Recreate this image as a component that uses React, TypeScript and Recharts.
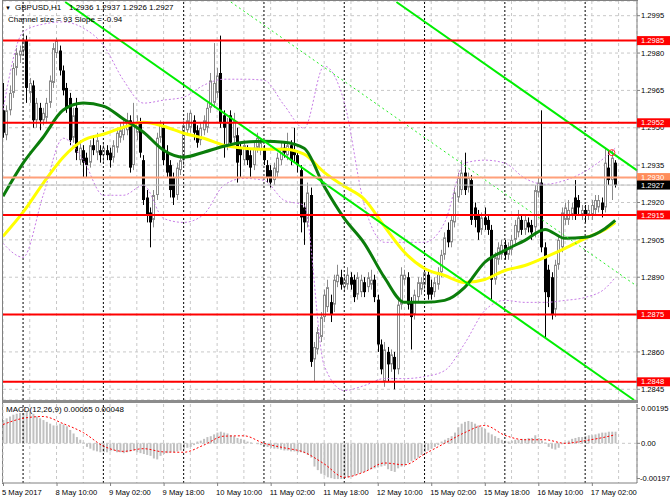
import React from 'react';
import { ComposedChart, Bar, Line, XAxis, YAxis, CartesianGrid, ReferenceLine, ReferenceDot } from 'recharts';

// GBPUSD H1 candles, prices in 1/10000 (12957 = 1.2957): [open, high, low, close]
const candles: number[][] = [
  [12957, 12968, 12946, 12948], [12947, 12959, 12945, 12957], [12957, 12967, 12955, 12964], [12964, 12976, 12962, 12974],
  [12974, 12982, 12971, 12980], [12979, 12983, 12976, 12981], [12981, 12988, 12979, 12985], [12985, 12987, 12960, 12966],
  [12964, 12970, 12960, 12968], [12967, 12969, 12950, 12953], [12953, 12962, 12950, 12960], [12958, 12960, 12949, 12953],
  [12953, 12958, 12951, 12956], [12954, 12962, 12952, 12960], [12960, 12971, 12958, 12969], [12968, 12984, 12966, 12982],
  [12980, 12986, 12978, 12985], [12981, 12983, 12971, 12973], [12973, 12975, 12963, 12965], [12966, 12968, 12956, 12958],
  [12962, 12964, 12943, 12945], [12946, 12958, 12944, 12955], [12958, 12962, 12937, 12940], [12937, 12945, 12935, 12942],
  [12941, 12943, 12930, 12936], [12938, 12940, 12930, 12935], [12936, 12945, 12934, 12943], [12943, 12947, 12939, 12941],
  [12940, 12948, 12937, 12945], [12941, 12943, 12936, 12939], [12939, 12944, 12936, 12942], [12941, 12943, 12937, 12939],
  [12940, 12942, 12934, 12937], [12938, 12945, 12936, 12943], [12942, 12950, 12940, 12948], [12946, 12952, 12944, 12949],
  [12947, 12953, 12945, 12950], [12949, 12956, 12947, 12953], [12953, 12955, 12932, 12934], [12935, 12960, 12933, 12952],
  [12948, 12955, 12945, 12952], [12952, 12954, 12938, 12940], [12937, 12939, 12919, 12921], [12922, 12925, 12912, 12915],
  [12916, 12918, 12902, 12912], [12913, 12925, 12910, 12923], [12923, 12948, 12921, 12946], [12946, 12953, 12944, 12951],
  [12950, 12952, 12935, 12937], [12940, 12943, 12930, 12932], [12935, 12937, 12922, 12925], [12930, 12932, 12919, 12922],
  [12923, 12936, 12921, 12934], [12933, 12939, 12931, 12937], [12937, 12953, 12935, 12951], [12949, 12956, 12947, 12953],
  [12950, 12957, 12948, 12956], [12953, 12955, 12945, 12948], [12949, 12951, 12942, 12944], [12945, 12952, 12943, 12950],
  [12949, 12955, 12947, 12953], [12950, 12960, 12948, 12958], [12958, 12972, 12956, 12969], [12960, 12984, 12958, 12968],
  [12964, 12974, 12962, 12971], [12972, 12987, 12950, 12952], [12955, 12957, 12938, 12950], [12943, 12954, 12941, 12952],
  [12955, 12957, 12942, 12944], [12946, 12956, 12944, 12953], [12947, 12950, 12928, 12936], [12942, 12944, 12930, 12939],
  [12937, 12945, 12935, 12943], [12941, 12943, 12935, 12937], [12939, 12941, 12930, 12934], [12935, 12944, 12933, 12942],
  [12942, 12948, 12940, 12946], [12941, 12946, 12939, 12944], [12941, 12943, 12935, 12937], [12935, 12937, 12928, 12930],
  [12933, 12935, 12926, 12928], [12929, 12936, 12927, 12934], [12932, 12940, 12930, 12938], [12937, 12944, 12935, 12942],
  [12942, 12944, 12938, 12940], [12939, 12948, 12937, 12943], [12943, 12945, 12935, 12937], [12941, 12950, 12936, 12939],
  [12939, 12941, 12932, 12935], [12933, 12935, 12908, 12914], [12918, 12920, 12903, 12912], [12912, 12928, 12910, 12924],
  [12923, 12926, 12854, 12856], [12857, 12864, 12848, 12862], [12861, 12870, 12859, 12868], [12866, 12876, 12864, 12874],
  [12874, 12885, 12872, 12883], [12878, 12889, 12876, 12886], [12880, 12883, 12872, 12875], [12879, 12891, 12876, 12889],
  [12888, 12895, 12886, 12891], [12890, 12893, 12885, 12887], [12886, 12891, 12884, 12889], [12887, 12894, 12885, 12891],
  [12890, 12892, 12885, 12887], [12889, 12891, 12880, 12882], [12883, 12892, 12881, 12890], [12884, 12891, 12882, 12889],
  [12888, 12890, 12882, 12884], [12886, 12892, 12884, 12890], [12887, 12893, 12885, 12889], [12889, 12891, 12880, 12882],
  [12881, 12883, 12860, 12863], [12863, 12865, 12851, 12853], [12848, 12864, 12846, 12861], [12860, 12862, 12848, 12855],
  [12855, 12861, 12852, 12859], [12858, 12860, 12845, 12853], [12853, 12881, 12851, 12879], [12879, 12894, 12877, 12891],
  [12889, 12893, 12887, 12891], [12890, 12892, 12877, 12879], [12880, 12882, 12861, 12874], [12875, 12885, 12873, 12883],
  [12882, 12890, 12880, 12888], [12885, 12890, 12883, 12888], [12887, 12894, 12885, 12892], [12891, 12893, 12881, 12883],
  [12886, 12889, 12881, 12883], [12884, 12890, 12882, 12888], [12887, 12894, 12885, 12892], [12892, 12901, 12890, 12899],
  [12899, 12908, 12897, 12906], [12909, 12912, 12902, 12904], [12904, 12915, 12902, 12913], [12912, 12926, 12910, 12924],
  [12922, 12932, 12920, 12930], [12925, 12937, 12923, 12932], [12932, 12940, 12923, 12925], [12926, 12932, 12924, 12930],
  [12929, 12931, 12911, 12913], [12918, 12920, 12910, 12913], [12915, 12917, 12905, 12908], [12909, 12916, 12907, 12914],
  [12914, 12918, 12909, 12911], [12913, 12915, 12907, 12909], [12909, 12911, 12881, 12889], [12889, 12900, 12887, 12898],
  [12897, 12904, 12895, 12902], [12899, 12905, 12897, 12903], [12903, 12905, 12897, 12899], [12899, 12904, 12897, 12902],
  [12901, 12907, 12899, 12905], [12905, 12913, 12903, 12911], [12908, 12917, 12906, 12914], [12913, 12915, 12907, 12909],
  [12909, 12915, 12907, 12913], [12912, 12914, 12908, 12910], [12911, 12913, 12905, 12908], [12910, 12927, 12906, 12925],
  [12924, 12930, 12922, 12928], [12928, 12957, 12900, 12902], [12902, 12904, 12866, 12884], [12893, 12895, 12878, 12882],
  [12890, 12892, 12873, 12875], [12877, 12897, 12874, 12895], [12895, 12907, 12893, 12905], [12902, 12918, 12900, 12916],
  [12913, 12920, 12911, 12918], [12913, 12921, 12911, 12917], [12915, 12920, 12913, 12918], [12922, 12929, 12913, 12915],
  [12921, 12923, 12915, 12918], [12915, 12919, 12913, 12917], [12917, 12919, 12912, 12915], [12915, 12919, 12913, 12917],
  [12915, 12921, 12913, 12919], [12917, 12923, 12915, 12921], [12918, 12923, 12916, 12921], [12920, 12922, 12914, 12917],
  [12918, 12942, 12916, 12936], [12934, 12941, 12927, 12929], [12929, 12941, 12921, 12938], [12936, 12937, 12926, 12927],
];

// MACD(12,26,9) histogram per bar, in pips (6.5 = 0.00065)
const macdHist = [
  13, 14, 15, 16, 16.5, 17, 17, 17.5, 17, 16.5,
  15, 14, 13, 12, 11, 10, 10, 11, 10.5, 9.5,
  7.5, 5.5, 3.5, 2, 0.5, -2, -3, -4, -4.5, -5,
  -5, -5, -4.5, -4, -5, -5, -5.5, -5, -4.5, -4,
  -5, -5.5, -6, -6.5, -7, -8.5, -9, -7, -6, -5.5,
  -5, -5, -4.5, -4, -3, -2.5, -2, -1, 1, 1.5,
  2.5, 3.5, 4, 5, 6, 6.5, 6, 5.5, 4.5, 4,
  3, 2.5, 2, 1, 0.5, 0, -0.5, -1, -1.5, -2,
  -2.5, -3, -3, -3.5, -4, -4, -4.5, -4.5, -5, -5,
  -5.5, -6.5, -8, -13, -15, -17, -18, -19, -19.5, -20,
  -20, -20, -19.5, -19, -18.5, -18, -17, -16.5, -16, -15,
  -14.5, -14, -13.5, -13, -12.5, -14.5, -15.5, -16, -14, -13,
  -12, -11, -10, -9, -8, -6.5, -5, -4, -3, -2,
  -1, 1, 2, 3, 4, 6, 9, 11, 12, 12.5,
  12, 11, 10, 9, 8, 6, 5, 4, 3, 2,
  1.5, 1, 1.5, 2, 2, 2.5, 2.5, 3, 3, 4.5,
  3, 1.5, 0.5, -2, -3, -3.5, -2.5, -0.5, 0.5, 1.5,
  2.5, 3, 3.5, 3.5, 4, 4.5, 4.5, 5, 5.5, 6,
  6, 6.5, 6.5, 6.5,
];

// indicator lines read at these bars
const sampleBars = [0, 6, 12, 18, 24, 30, 36, 42, 48, 54, 60, 66, 72, 78, 84, 90, 96, 102, 108, 114, 120, 126, 132, 138, 144, 150, 156, 162, 168, 174, 180, 183];
const yellowMa = [12906.4, 12916.1, 12927.7, 12938.2, 12945.0, 12947.4, 12950.2, 12952.2, 12950.6, 12947.8, 12945.8, 12943.0, 12941.8, 12941.4, 12941.4, 12939.4, 12932.1, 12926.5, 12921.3, 12910.4, 12900.0, 12893.5, 12890.7, 12887.9, 12889.1, 12892.7, 12894.7, 12898.0, 12901.6, 12905.6, 12909.2, 12912.0];
const greenMa = [12922.5, 12935.8, 12946.2, 12957.1, 12959.9, 12958.7, 12953.5, 12948.2, 12941.0, 12938.2, 12940.2, 12942.6, 12944.2, 12944.6, 12944.2, 12941.8, 12926.5, 12913.6, 12903.6, 12889.9, 12879.9, 12879.9, 12880.7, 12885.9, 12896.0, 12900.8, 12904.8, 12909.2, 12905.6, 12906.0, 12909.6, 12912.8];
const bandUpper = [12957.1, 12988.4, 12991.6, 12992.5, 12990.0, 12983.2, 12969.1, 12959.9, 12961.1, 12962.3, 12967.1, 12969.5, 12969.5, 12969.1, 12959.1, 12949.8, 12974.8, 12960.3, 12918.9, 12904.0, 12904.0, 12904.0, 12912.0, 12935.8, 12937.0, 12935.8, 12929.7, 12927.3, 12928.9, 12932.5, 12938.2, 12941.8];
const bandLower = [12903.6, 12898.0, 12922.9, 12945.8, 12937.0, 12922.9, 12922.9, 12926.9, 12913.6, 12912.0, 12915.2, 12926.9, 12929.7, 12928.9, 12920.9, 12918.9, 12854.5, 12844.5, 12846.5, 12849.3, 12849.3, 12850.1, 12852.5, 12863.4, 12876.6, 12880.7, 12879.9, 12879.9, 12880.7, 12881.9, 12885.5, 12889.9];
const signalLine = [10.5, 14, 15, 11, 6, -1.5, -4.5, -3, -4.8, -5, -1, 4, 4.2, 0, -2.5, -5, -11.5, -19, -16, -11, -12, -6, 0, 6, 10, 4.5, 2, 2, 0, 1.5, 3.5, 4.8];

// regression channel (bar, price) end points
const channelUpper = [[117.6, 13000.5], [189.5, 12932.9]];
const channelMid = [[68.1, 13000.5], [189.5, 12886.4]];
const channelLower = [[18.6, 13000.5], [188.6, 12840.7]];

const supportLevels = [12985, 12952, 12915, 12875, 12848];
const markedPrice = 12930;
const bidPrice = 12927;
const signalDot = [182, 12940];

const priceTicks = [12845, 12860, 12875, 12890, 12905, 12920, 12935, 12950, 12965, 12980, 12995];
const macdTicks = [19.5, 0, -19.7];
const gridBars = [8, 16, 24, 32, 40, 48, 56, 64, 72, 80, 88, 96, 104, 112, 120, 128, 136, 144, 152, 160, 168, 176, 184];
const axisBars = [0, ...gridBars];
const daySeparators = [6, 30, 54, 78, 102, 126, 150, 174];
const timeLabelBars = [0, 16, 32, 48, 64, 80, 96, 112, 128, 144, 160, 176];
const timeLabels = ['5 May 2017', '8 May 10:00', '9 May 02:00', '9 May 18:00', '10 May 10:00', '11 May 02:00', '11 May 18:00', '12 May 10:00', '15 May 02:00', '15 May 18:00', '16 May 10:00', '17 May 02:00'];

const rows = candles.map(([o, h, l, c], i) => {
  const k = sampleBars.indexOf(i);
  const row: any = { i, o, h, l, c, macd: macdHist[i] };
  if (k >= 0) {
    row.ma1 = yellowMa[k];
    row.ma2 = greenMa[k];
    row.up = bandUpper[k];
    row.lo = bandLower[k];
    row.sig = signalLine[k];
  }
  return row;
});

// price-axis tags are drawn after the plain labels so they sit on top
const tagColors: Record<number, string> = { [markedPrice]: '#ff8c5a', [bidPrice]: '#000' };
supportLevels.forEach((p) => (tagColors[p] = '#ff0000'));
const priceAxisTicks = [...priceTicks, ...supportLevels, markedPrice, bidPrice];

const FONT = '"Liberation Sans", Arial, sans-serif';
const AXIS_FS = 7.6;
const fmtPrice = (v: number) => (v / 10000).toFixed(4);
const fmtMacd = (v: number) => (v === 0 ? '0.00' : (v / 10000).toFixed(5));

const Candle = (props: any) => {
  const { x, y, width, height, payload } = props;
  if (!payload) return null;
  const { o, h, l, c } = payload;
  const top = Math.min(y, y + height);
  const span = Math.abs(height);
  const py = (p: number) => top + ((h - p) / (h - l)) * span;
  const cx = Math.round(x + width / 2);
  const up = c >= o;
  const col = up ? '#8a8a8a' : '#000';
  const bt = py(Math.max(o, c));
  const bh = Math.max(1, py(Math.min(o, c)) - bt);
  return (
    <g>
      <line x1={cx + 0.5} x2={cx + 0.5} y1={top} y2={top + span} stroke={col} />
      {up ? (
        <rect x={cx - 0.5} y={bt + 0.5} width={2} height={Math.max(0, bh - 1)} fill="#fff" stroke={col} />
      ) : (
        <rect x={cx - 1} y={bt} width={3} height={bh} fill="#000" />
      )}
    </g>
  );
};

const PriceTick = (props: any) => {
  const { x, y, payload, index, fmt, tags } = props;
  const isTag = tags && index >= priceTicks.length;
  const tx = payload.value < 0 ? x - 1 : x;
  if (isTag) {
    return (
      <g>
        <rect x={x - 4} y={y - 4.5} width={33} height={9} fill={tags[payload.value]} />
        <text x={x} y={y} dy="0.35em" textAnchor="start" fontSize={AXIS_FS} fontFamily={FONT} fill="#fff">
          {fmt(payload.value)}
        </text>
      </g>
    );
  }
  return (
    <text x={tx} y={y} dy="0.35em" textAnchor="start" fontSize={AXIS_FS} fontFamily={FONT} fill="#000">
      {fmt(payload.value)}
    </text>
  );
};

const TimeTick = (props: any) => {
  const { x, y, payload } = props;
  const k = timeLabelBars.indexOf(payload.value);
  if (k < 0) return null;
  return (
    <g>
      <line x1={x + 0.5} x2={x + 0.5} y1={y - 3} y2={y} stroke="#808080" />
      <text x={x - 1} y={y + 6} dy="0.35em" textAnchor="start" fontSize={AXIS_FS} fontFamily={FONT} fill="#000">
        {timeLabels[k]}
      </text>
    </g>
  );
};

const seg = (p: number[][]) => p.map(([x, y]) => ({ x, y }));

export default function App() {
  return (
    <div style={{ position: 'relative', width: 670, height: 502, background: '#fff', overflow: 'hidden', fontFamily: FONT }}>
      <style>{'body{margin:0}'}</style>
      <div style={{ position: 'absolute', left: 0, top: 0 }}>
        <ComposedChart width={670} height={401} data={rows} margin={{ top: 1, right: 0, bottom: 1, left: 3 }}>
          <CartesianGrid stroke="#c8c8c8" strokeDasharray="3 3" />
          <XAxis dataKey="i" type="number" domain={[0, 189.5]} ticks={gridBars} interval={0} hide allowDataOverflow />
          <YAxis
            orientation="right"
            type="number"
            domain={[12840.7, 13000.9]}
            ticks={priceAxisTicks}
            interval={0}
            width={33}
            allowDataOverflow
            axisLine={{ stroke: '#808080' }}
            tickLine={{ stroke: '#808080' }}
            tickSize={3}
            tickMargin={1}
            tick={<PriceTick fmt={fmtPrice} tags={tagColors} />}
          />
          {daySeparators.map((d) => (
            <ReferenceLine key={d} x={d} stroke="#000" strokeDasharray="2 2" />
          ))}
          <Line dataKey="up" type="monotone" stroke="#c77de6" strokeDasharray="2 2" dot={false} connectNulls isAnimationActive={false} />
          <Line dataKey="lo" type="monotone" stroke="#c77de6" strokeDasharray="2 2" dot={false} connectNulls isAnimationActive={false} />
          <Bar dataKey={(r: any) => [r.l, r.h]} shape={<Candle />} barSize={3} isAnimationActive={false} />
          <Line dataKey="ma1" type="monotone" stroke="#ffff00" strokeWidth={3} dot={false} connectNulls isAnimationActive={false} />
          <Line dataKey="ma2" type="monotone" stroke="#0b7d0b" strokeWidth={3} dot={false} connectNulls isAnimationActive={false} />
          <ReferenceLine segment={seg(channelMid)} stroke="#22ee22" strokeDasharray="2 3" ifOverflow="visible" />
          <ReferenceLine segment={seg(channelUpper)} stroke="#00ee00" strokeWidth={2} ifOverflow="visible" />
          <ReferenceLine segment={seg(channelLower)} stroke="#00ee00" strokeWidth={2} ifOverflow="visible" />
          <ReferenceLine y={markedPrice} stroke="#ffa07a" strokeWidth={2} />
          <ReferenceLine y={bidPrice} stroke="#c0c0c0" />
          {supportLevels.map((p) => (
            <ReferenceLine key={p} y={p} stroke="#ff0000" strokeWidth={2} />
          ))}
          <ReferenceDot x={signalDot[0]} y={signalDot[1]} r={3} fill="none" stroke="#ff3030" />
        </ComposedChart>
      </div>
      <div style={{ position: 'absolute', left: 2, top: 0, width: 1, height: 484, background: '#808080' }} />
      <div style={{ position: 'absolute', left: 2, top: 0, width: 636, height: 1, background: '#808080' }} />
      <div style={{ position: 'absolute', left: 2, top: 400, width: 636, height: 3, background: '#8c8c8c' }} />
      <div style={{ position: 'absolute', left: 0, top: 403 }}>
        <ComposedChart width={670} height={99} data={rows} margin={{ top: 1, right: 0, bottom: 0, left: 3 }}>
          <CartesianGrid horizontal={false} stroke="#c8c8c8" strokeDasharray="3 3" />
          <XAxis
            dataKey="i"
            type="number"
            domain={[0, 189.5]}
            ticks={axisBars}
            interval={0}
            height={19}
            allowDataOverflow
            axisLine={{ stroke: '#808080' }}
            tickLine={false}
            tickSize={3}
            tickMargin={0}
            tick={<TimeTick />}
          />
          <YAxis
            orientation="right"
            type="number"
            domain={[-22.2, 22]}
            ticks={macdTicks}
            interval={0}
            width={33}
            allowDataOverflow
            axisLine={{ stroke: '#808080' }}
            tickLine={{ stroke: '#808080' }}
            tickSize={3}
            tickMargin={1}
            tick={<PriceTick fmt={fmtMacd} />}
          />
          <ReferenceLine y={0} stroke="#c8c8c8" strokeDasharray="3 3" />
          {daySeparators.map((d) => (
            <ReferenceLine key={d} x={d} stroke="#000" strokeDasharray="2 2" />
          ))}
          <Bar dataKey="macd" fill="#c0c0c0" barSize={2} isAnimationActive={false} />
          <Line dataKey="sig" type="monotone" stroke="#ff0000" strokeDasharray="2 2" dot={false} connectNulls isAnimationActive={false} />
        </ComposedChart>
      </div>
      <div style={{ position: 'absolute', left: 5, top: 3, fontSize: 6, lineHeight: '10px' }}>▼</div>
      <div style={{ position: 'absolute', left: 15, top: 3, fontSize: 8, lineHeight: '10px', whiteSpace: 'pre' }}>GBPUSD,H1</div>
      <div style={{ position: 'absolute', left: 69, top: 3, fontSize: 8, lineHeight: '10px', whiteSpace: 'pre' }}>1.2936 1.2937 1.2926 1.2927</div>
      <div style={{ position: 'absolute', left: 8, top: 15, fontSize: 8, lineHeight: '10px', whiteSpace: 'pre' }}>Channel size = 93 Slope = -0.94</div>
      <div style={{ position: 'absolute', left: 6, top: 405, fontSize: 8, lineHeight: '10px', whiteSpace: 'pre' }}>MACD(12,26,9) 0.00065 0.00048</div>
    </div>
  );
}
